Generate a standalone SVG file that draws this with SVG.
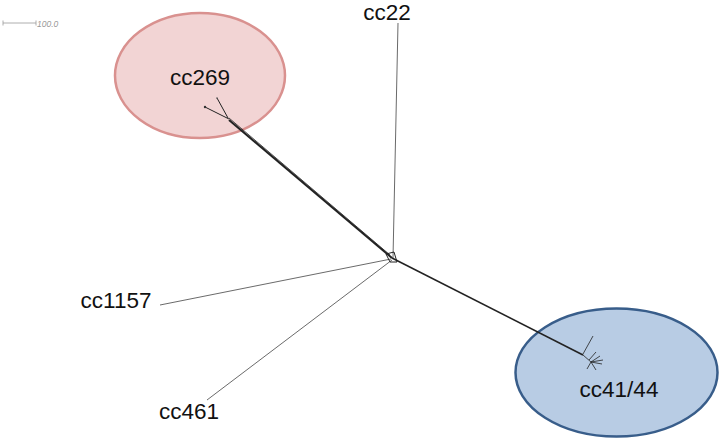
<svg xmlns="http://www.w3.org/2000/svg" width="720" height="439" viewBox="0 0 720 439">
<style>
.lbl{font-family:"Liberation Sans",Arial,sans-serif;font-size:22.5px;fill:#111}
.br{stroke:#222;fill:none}
.thin{stroke:#444;stroke-width:0.8;fill:none}
</style>
<rect width="720" height="439" fill="#fff"/>
<g id="scale">
<path d="M3,23 H36 M3,20.5 V25.5 M36,20.5 V25.5" stroke="#999" stroke-width="0.8" fill="none"/>
<text x="37" y="26.5" font-family="Liberation Sans,Arial,sans-serif" font-size="8.5" font-style="italic" fill="#999">100.0</text>
</g>
<g id="cc269">
<ellipse cx="200" cy="75.5" rx="85" ry="62.5" fill="#f2d4d4" stroke="#d9918f" stroke-width="2.5"/>
<text class="lbl" x="200" y="85" text-anchor="middle">cc269</text>
</g>
<g id="cc4144">
<ellipse cx="616.5" cy="372.5" rx="101" ry="64" fill="#b8cce4" stroke="#385d8a" stroke-width="2.5"/>
<text class="lbl" x="619" y="397" text-anchor="middle">cc41/44</text>
</g>
<g id="connectors">
<path class="thin" d="M393,258 L398,23"/>
<path class="thin" d="M391,259 L160,305"/>
<path class="thin" d="M392,260 L207,400"/>
<path class="br" stroke-width="2" d="M392,258 L229,120"/>
<path class="br" stroke-width="0.8" d="M390,255 L229,118"/>
<path class="br" stroke-width="1" d="M229,119 L205,107 M228,118 L217,98"/>
<circle cx="205" cy="107" r="1.2" fill="#333"/>
<circle cx="217" cy="98" r="0.8" fill="#555"/>
<path class="br" stroke-width="1.6" d="M392,258 L583,355"/>
<path class="br" stroke-width="0.8" d="M583,354 L593,336 M583,355 L591,362 M591,362 L600,356 M591,362 L602,364 M591,362 L596,370 M591,362 L587,369 M589,360 L596,352 M591,362 L603,360"/>
<path d="M386,254 L394,252 L397,262 L390,262 Z" fill="none" stroke="#222" stroke-width="1"/>
</g>
<g id="cc22"><text class="lbl" x="387" y="20" text-anchor="middle">cc22</text></g>
<g id="cc1157"><text class="lbl" x="116" y="308" text-anchor="middle">cc1157</text></g>
<g id="cc461"><text class="lbl" x="189" y="419" text-anchor="middle">cc461</text></g>
</svg>
